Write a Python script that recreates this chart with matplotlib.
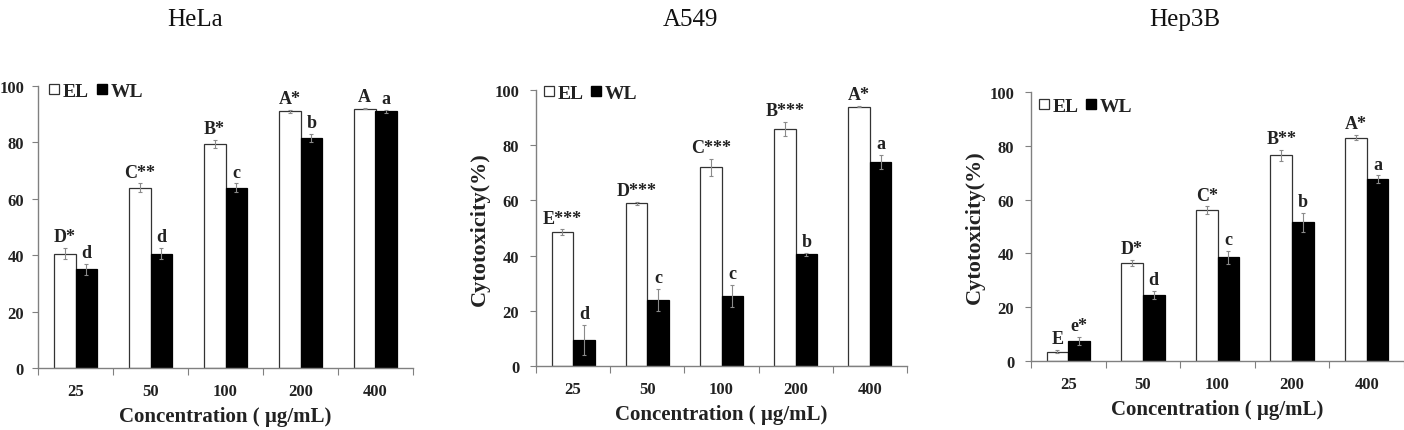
import numpy as np
import matplotlib
matplotlib.use('Agg')
import matplotlib.pyplot as plt
from matplotlib.lines import Line2D

plt.rcParams['font.family'] = ['Liberation Serif', 'DejaVu Serif']

# data
concentrations = ['25', '50', '100', '200', '400']
cell_lines = ['HeLa', 'A549', 'Hep3B']

hela_el = [40.5, 64.0, 79.5, 91.0, 92.0]
hela_el_err = [2.0, 1.5, 1.5, 0.5, 0.3]
hela_wl = [35.0, 40.5, 64.0, 81.5, 91.0]
hela_wl_err = [2.0, 2.0, 1.5, 1.5, 0.5]
hela_el_marks = ['D*', 'C**', 'B*', 'A*', 'A']
hela_wl_marks = ['d', 'd', 'c', 'b', 'a']

a549_el = [48.5, 59.0, 72.0, 86.0, 94.0]
a549_el_err = [1.0, 0.5, 3.0, 2.5, 0.3]
a549_wl = [9.5, 24.0, 25.5, 40.5, 74.0]
a549_wl_err = [5.5, 4.0, 4.0, 0.5, 2.5]
a549_el_marks = ['E***', 'D***', 'C***', 'B***', 'A*']
a549_wl_marks = ['d', 'c', 'c', 'b', 'a']

hep3b_el = [3.5, 36.5, 56.0, 76.5, 83.0]
hep3b_el_err = [0.5, 1.0, 1.5, 2.0, 1.0]
hep3b_wl = [7.5, 24.5, 38.5, 51.5, 67.5]
hep3b_wl_err = [1.5, 1.5, 2.5, 3.5, 1.5]
hep3b_el_marks = ['E', 'D*', 'C*', 'B**', 'A*']
hep3b_wl_marks = ['e*', 'd', 'c', 'b', 'a']

W, H = 1404, 431
fig = plt.figure(figsize=(W / 100, H / 100), dpi=100)


def box(left, right, y0, y100):
    return [left / W, 1 - y0 / H, (right - left) / W, (y0 - y100) / H]


def panel(rect, el, el_err, wl, wl_err, el_marks, wl_marks, ylabel, leg_xy, ypad):
    ax = fig.add_axes(rect)
    x = np.arange(len(concentrations))
    w = 0.29
    ekw = dict(ecolor='#8a8a8a', elinewidth=0.8, capsize=1.5, capthick=0.8)
    ax.bar(x - w / 2, el, w, yerr=el_err, color='white', edgecolor='#333333',
           linewidth=0.9, error_kw=ekw, zorder=2)
    ax.bar(x + w / 2, wl, w, yerr=wl_err, color='black', edgecolor='black',
           linewidth=0.9, error_kw=ekw, zorder=2)
    for i in range(len(x)):
        ax.annotate(el_marks[i], (x[i] - w / 2, el[i] + el_err[i]), xytext=(0, 2),
                    textcoords='offset points', ha='center', va='bottom',
                    fontsize=13, fontweight='bold', color='#222222')
        ax.annotate(wl_marks[i], (x[i] + w / 2, wl[i] + wl_err[i]), xytext=(0, 2),
                    textcoords='offset points', ha='center', va='bottom',
                    fontsize=13, fontweight='bold', color='#222222')

    ax.set_xlim(-0.5, len(x) - 0.5)
    ax.set_ylim(0, 100)
    ax.set_yticks(range(0, 101, 20))
    ax.set_xticks(np.arange(len(x) + 1) - 0.5)
    ax.set_xticklabels([])
    ax.set_xticks(x, minor=True)
    ax.set_xticklabels(concentrations, minor=True)
    ax.tick_params(axis='x', which='minor', length=0, pad=11)
    ax.tick_params(axis='x', which='major', length=5, direction='out', color='#808080')
    ax.tick_params(axis='y', length=4, direction='out', color='#808080', pad=ypad)
    for lab in ax.get_xticklabels(minor=True) + ax.get_yticklabels():
        lab.set_fontweight('bold')
        lab.set_fontsize(12)
        lab.set_color('#222222')
    for s in ['top', 'right']:
        ax.spines[s].set_visible(False)
    for s in ['left', 'bottom']:
        ax.spines[s].set_color('#808080')
        ax.spines[s].set_linewidth(1.0)
    ax.set_xlabel('Concentration ( µg/mL)', fontsize=15, fontweight='bold',
                  color='#222222', labelpad=5)
    if ylabel:
        ax.set_ylabel('Cytotoxicity(%)', fontsize=16, fontweight='bold',
                      color='#222222', labelpad=3)
    handles = [Line2D([], [], marker='s', linestyle='none', markersize=6.5,
                      markerfacecolor='white', markeredgecolor='#333333',
                      markeredgewidth=0.9),
               Line2D([], [], marker='s', linestyle='none', markersize=6.5,
                      markerfacecolor='black', markeredgecolor='black')]
    leg = ax.legend(handles, ['EL', 'WL'], ncol=2, loc='upper left', frameon=False,
                    handlelength=0.5, handletextpad=0.2,
                    columnspacing=0.4, borderaxespad=0.0,
                    bbox_to_anchor=leg_xy,
                    prop={'weight': 'bold', 'size': 14})
    for t in leg.get_texts():
        t.set_color('#222222')
    return ax


panel(box(38, 413, 369, 87), hela_el, hela_el_err, hela_wl, hela_wl_err,
      hela_el_marks, hela_wl_marks, False, (0.01, 1.04), 6)
panel(box(536, 907, 367, 91), a549_el, a549_el_err, a549_wl, a549_wl_err,
      a549_el_marks, a549_wl_marks, True, (0.0, 1.05), 8)
panel(box(1031, 1404, 362, 93), hep3b_el, hep3b_el_err, hep3b_wl, hep3b_wl_err,
      hep3b_el_marks, hep3b_wl_marks, True, (0.0, 1.01), 8)

title_x = [195, 690, 1185]
for name, tx in zip(cell_lines, title_x):
    fig.text(tx / W, 1 - 20 / H, name, ha='center', va='center', fontsize=18,
             color='#111111')

fig.savefig('out.png', dpi=100)
